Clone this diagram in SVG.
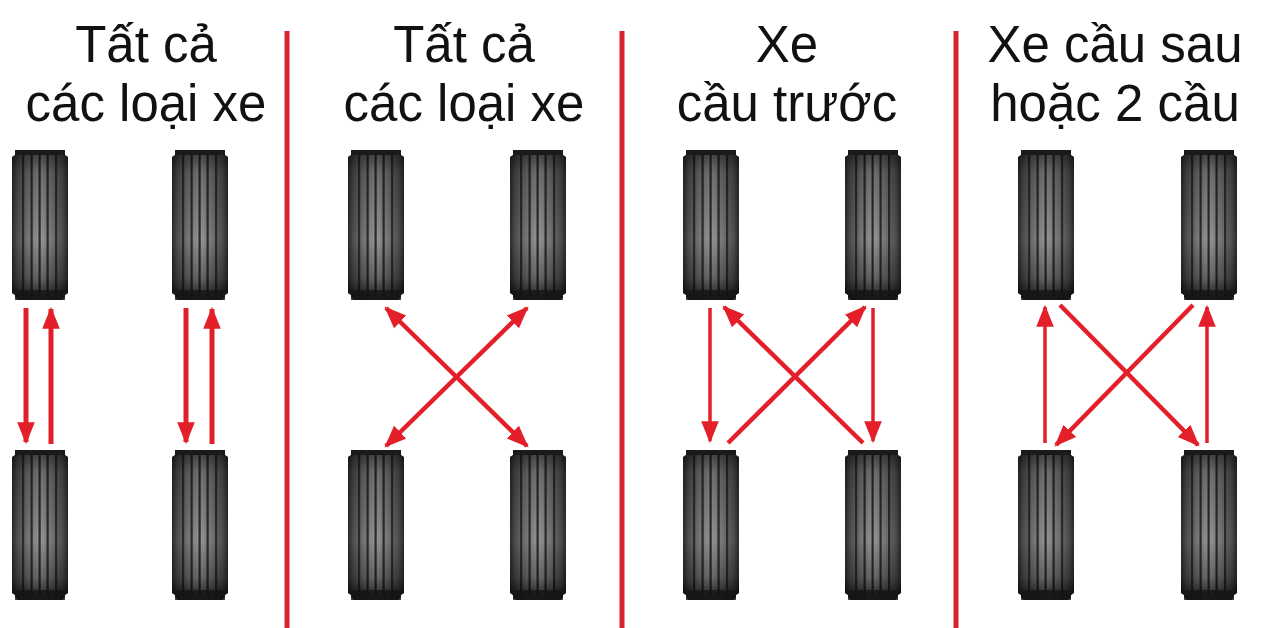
<svg xmlns="http://www.w3.org/2000/svg" width="1262" height="628" viewBox="0 0 1262 628">
  <style>
    .title { font-family: "Liberation Sans", Arial, sans-serif; font-size: 51px; fill: #111; text-anchor: middle; }
    .divider { stroke: #d9232e; stroke-width: 5; }
    .arrow { stroke: #e3202a; fill: none; }
    .thick { stroke-width: 5; }
    .mid { stroke-width: 4.5; }
    .thin { stroke-width: 3.5; }
  </style>
  <defs>
    <linearGradient id="tireSide" x1="0" y1="0" x2="1" y2="0">
      <stop offset="0" stop-color="#2a2a2a"/>
      <stop offset="0.1" stop-color="#505050"/>
      <stop offset="0.3" stop-color="#777"/>
      <stop offset="0.5" stop-color="#959595"/>
      <stop offset="0.7" stop-color="#777"/>
      <stop offset="0.9" stop-color="#505050"/>
      <stop offset="1" stop-color="#2a2a2a"/>
    </linearGradient>
    <linearGradient id="tireShade" x1="0" y1="0" x2="0" y2="1">
      <stop offset="0" stop-color="#000" stop-opacity="0.6"/>
      <stop offset="0.15" stop-color="#000" stop-opacity="0.25"/>
      <stop offset="0.6" stop-color="#000" stop-opacity="0"/>
      <stop offset="0.85" stop-color="#000" stop-opacity="0.3"/>
      <stop offset="1" stop-color="#000" stop-opacity="0.8"/>
    </linearGradient>
    <symbol id="tire" viewBox="0 0 56 150" width="56" height="150">
      <path d="M6,0 H50 L53,3 V5 L56,7 V143 L53,145 V147 L50,150 H6 L3,147 V145 L0,143 V7 L3,5 V3 Z" fill="url(#tireSide)"/>
      <g fill="#2b2b2b">
        <rect x="10" y="4" width="2.2" height="142"/>
        <rect x="18.5" y="4" width="2.2" height="142"/>
        <rect x="26.5" y="4" width="2.2" height="142"/>
        <rect x="34.5" y="4" width="2.2" height="142"/>
        <rect x="43" y="4" width="2.2" height="142"/>
      </g>
      <path d="M6,0 H50 L53,3 V5 L56,7 V143 L53,145 V147 L50,150 H6 L3,147 V145 L0,143 V7 L3,5 V3 Z" fill="url(#tireShade)"/>
      <rect x="3" y="0" width="50" height="5" fill="#1a1a1a"/>
      <rect x="3" y="140" width="50" height="10" fill="#151515" opacity="0.8"/>
    </symbol>
    <marker id="head" viewBox="0 0 10 10" refX="9" refY="5" markerWidth="22" markerHeight="22" markerUnits="userSpaceOnUse" orient="auto-start-reverse">
      <path d="M0,1 L10,5 L0,9 Z" fill="#e3202a"/>
    </marker>
  </defs>

  <rect width="1262" height="628" fill="#fff"/>

  <!-- column separators -->
  <g id="dividers">
    <line class="divider" x1="287" y1="31" x2="287" y2="628"/>
    <line class="divider" x1="622" y1="31" x2="622" y2="628"/>
    <line class="divider" x1="956" y1="31" x2="956" y2="628"/>
  </g>

  <!-- headings -->
  <g id="title-1"><text class="title" x="146" y="62">Tất cả</text><text class="title" x="146" y="121">các loại xe</text></g>
  <g id="title-2"><text class="title" x="464" y="62">Tất cả</text><text class="title" x="464" y="121">các loại xe</text></g>
  <g id="title-3"><text class="title" x="787" y="62">Xe</text><text class="title" x="787" y="121">cầu trước</text></g>
  <g id="title-4"><text class="title" x="1115" y="62">Xe cầu sau</text><text class="title" x="1115" y="121">hoặc 2 cầu</text></g>

  <!-- tyres: front row and rear row for each pattern -->
  <g id="p1-fl"><use href="#tire" x="12" y="150"/></g>
  <g id="p1-fr"><use href="#tire" x="172" y="150"/></g>
  <g id="p1-rl"><use href="#tire" x="12" y="450"/></g>
  <g id="p1-rr"><use href="#tire" x="172" y="450"/></g>

  <g id="p2-fl"><use href="#tire" x="348" y="150"/></g>
  <g id="p2-fr"><use href="#tire" x="510" y="150"/></g>
  <g id="p2-rl"><use href="#tire" x="348" y="450"/></g>
  <g id="p2-rr"><use href="#tire" x="510" y="450"/></g>

  <g id="p3-fl"><use href="#tire" x="683" y="150"/></g>
  <g id="p3-fr"><use href="#tire" x="845" y="150"/></g>
  <g id="p3-rl"><use href="#tire" x="683" y="450"/></g>
  <g id="p3-rr"><use href="#tire" x="845" y="450"/></g>

  <g id="p4-fl"><use href="#tire" x="1018" y="150"/></g>
  <g id="p4-fr"><use href="#tire" x="1181" y="150"/></g>
  <g id="p4-rl"><use href="#tire" x="1018" y="450"/></g>
  <g id="p4-rr"><use href="#tire" x="1181" y="450"/></g>

  <!-- rotation paths -->
  <g id="connectors">
    <!-- straight swap -->
    <line class="arrow thick" x1="26" y1="308" x2="26" y2="442" marker-end="url(#head)"/>
    <line class="arrow thick" x1="51" y1="444" x2="51" y2="309" marker-end="url(#head)"/>
    <line class="arrow thick" x1="186" y1="308" x2="186" y2="442" marker-end="url(#head)"/>
    <line class="arrow thick" x1="212" y1="444" x2="212" y2="309" marker-end="url(#head)"/>
    <!-- X pattern -->
    <line class="arrow mid" x1="386" y1="308" x2="527" y2="446" marker-start="url(#head)" marker-end="url(#head)"/>
    <line class="arrow mid" x1="527" y1="308" x2="386" y2="446" marker-start="url(#head)" marker-end="url(#head)"/>
    <!-- forward cross -->
    <line class="arrow thin" x1="710" y1="308" x2="710" y2="441" marker-end="url(#head)"/>
    <line class="arrow thin" x1="873" y1="308" x2="873" y2="441" marker-end="url(#head)"/>
    <line class="arrow mid" x1="728" y1="443" x2="865" y2="307" marker-end="url(#head)"/>
    <line class="arrow mid" x1="863" y1="443" x2="724" y2="307" marker-end="url(#head)"/>
    <!-- rearward cross -->
    <line class="arrow thin" x1="1045" y1="443" x2="1045" y2="307" marker-end="url(#head)"/>
    <line class="arrow thin" x1="1207" y1="443" x2="1207" y2="307" marker-end="url(#head)"/>
    <line class="arrow mid" x1="1060" y1="305" x2="1198" y2="445" marker-end="url(#head)"/>
    <line class="arrow mid" x1="1193" y1="305" x2="1056" y2="445" marker-end="url(#head)"/>
  </g>
</svg>
